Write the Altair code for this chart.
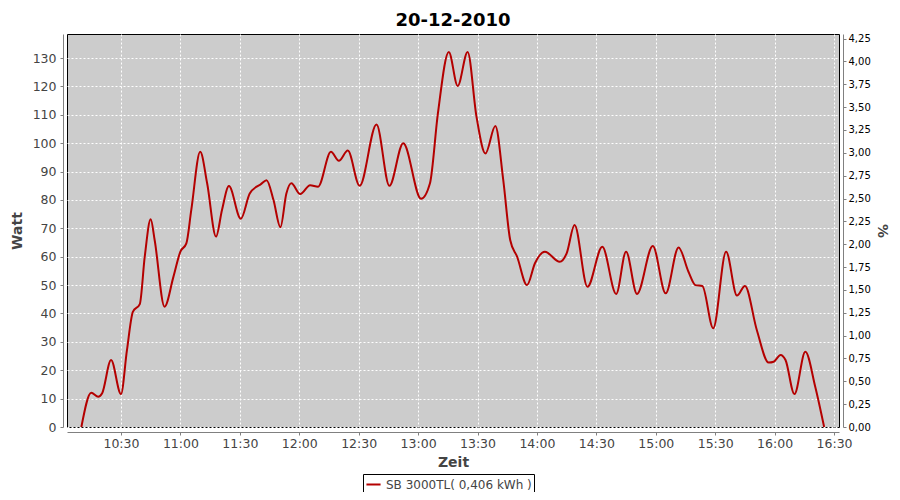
import altair as alt
import pandas as pd

# ---- data ----
times = [
    "10:10:00", "10:15:00", "10:18:30", "10:20:30", "10:25:00", "10:30:00", "10:33:00",
    "10:36:00", "10:39:30", "10:42:00", "10:45:00", "10:47:00", "10:52:00", "10:56:30",
    "11:00:00", "11:03:00", "11:05:30", "11:10:00", "11:13:30", "11:18:00", "11:21:00",
    "11:24:30", "11:30:30", "11:35:00", "11:38:30", "11:40:30", "11:43:30", "11:47:00",
    "11:50:30", "11:53:30", "11:56:00", "12:00:30", "12:05:30", "12:09:30", "12:16:00",
    "12:20:00", "12:24:30", "12:30:30", "12:39:00", "12:45:30", "12:52:30", "13:01:30",
    "13:06:00", "13:10:00", "13:15:30", "13:20:00", "13:25:00", "13:29:30", "13:34:00",
    "13:39:00", "13:43:00", "13:46:30", "13:50:00", "13:55:00", "13:59:00", "14:04:00",
    "14:11:30", "14:15:00", "14:19:00", "14:25:30", "14:33:00", "14:40:00", "14:45:00",
    "14:50:30", "14:58:30", "15:05:00", "15:11:30", "15:16:30", "15:20:00", "15:23:30",
    "15:29:00", "15:35:30", "15:41:00", "15:45:00", "15:51:00", "15:57:00", "15:59:30",
    "16:03:00", "16:05:30", "16:10:00", "16:15:30", "16:20:30", "16:25:00",
]
watt = [
    0, 12.1, 10.7, 11.9, 23.6, 11.6, 27.0,
    40.6, 43.3, 60.0, 73.2, 65.9, 42.4, 53.0,
    61.8, 64.7, 76.5, 97.0, 85.9, 67.1, 76.5,
    84.9, 73.4, 82.3, 84.7, 85.5, 87.0, 80.0,
    70.4, 82.3, 85.9, 82.1, 85.2, 84.7, 97.0,
    93.8, 97.4, 85.0, 106.6, 85.0, 100.0, 80.4,
    85.9, 110.5, 132.2, 120.2, 132.2, 109.3, 96.4,
    106.1, 87.0, 65.9, 60.0, 50.0, 57.7, 61.8,
    58.2, 61.2, 71.2, 49.4, 63.5, 46.9, 61.8,
    46.9, 63.8, 47.1, 63.3, 54.7, 50.0, 49.7,
    34.8, 61.8, 46.3, 49.7, 34.2, 22.7, 23.0,
    25.4, 23.6, 11.6, 26.5, 14.2, 0,
]
series_name = "SB 3000TL( 0,406 kWh )"
chart_title = "20-12-2010"
day = "2010-12-20"
x_ticks = ["10:30", "11:00", "11:30", "12:00", "12:30", "13:00", "13:30",
           "14:00", "14:30", "15:00", "15:30", "16:00", "16:30"]
watt_ticks = list(range(0, 140, 10))
pct_ticks = [i * 0.25 for i in range(18)]
watt_domain = [0, 138.5]
pct_domain = [0, 4.3]

df = pd.DataFrame({
    "t": [f"{day}T{t}" for t in times],
    "watt": watt,
    "series": series_name,
})
pct_df = pd.DataFrame({"pct": pct_domain, "t": [f"{day}T12:00:00"] * 2})


def dt(hm, sec=0):
    h, m = hm.split(":")
    return alt.DateTime(year=2010, month=12, date=20, hours=int(h), minutes=int(m), seconds=sec)


x_domain = [dt("10:02", 45), dt("16:32", 30)]
x_enc = alt.X(
    "t:T",
    scale=alt.Scale(domain=x_domain, nice=False),
    axis=alt.Axis(
        title="Zeit", values=[dt(v) for v in x_ticks], format="%H:%M",
        grid=True, gridColor="white", gridDash=[2, 2], gridWidth=1,
        offset=5, tickSize=3, labelPadding=2, titlePadding=6,
        labelFontSize=12.5, titleFontSize=14, titleFontWeight="bold",
    ),
)

line = alt.Chart(df).mark_line(interpolate="monotone", strokeWidth=2).encode(
    x=x_enc,
    y=alt.Y(
        "watt:Q",
        scale=alt.Scale(domain=watt_domain, nice=False),
        axis=alt.Axis(
            title="Watt", values=watt_ticks, grid=True, gridColor="white",
            gridDash=[2, 2], gridWidth=1, offset=4, tickSize=3,
            labelPadding=4, titlePadding=8, labelFontSize=12.5,
            titleFontSize=14, titleFontWeight="bold",
        ),
    ),
    color=alt.Color(
        "series:N",
        scale=alt.Scale(range=["#b40000"]),
        legend=alt.Legend(
            title=None, orient="none", legendX=296, legendY=440,
            symbolType="stroke", symbolStrokeWidth=2, symbolSize=200,
            labelFontSize=12, labelColor="#444444", labelFont="DejaVu Sans",
            strokeColor="black", padding=2, cornerRadius=0, fillColor="white",
        ),
    ),
)

right = alt.Chart(pct_df).mark_point(opacity=0).encode(
    x=alt.X("t:T", scale=alt.Scale(domain=x_domain, nice=False)),
    y=alt.Y(
        "pct:Q",
        scale=alt.Scale(domain=pct_domain, nice=False),
        axis=alt.Axis(
            title="%", orient="right", values=pct_ticks, grid=False,
            labelExpr="replace(format(datum.value, '.2f'), '.', ',')",
            offset=4, tickSize=3, labelPadding=2, titlePadding=4,
            labelFontSize=10, labelColor="black", titleFontSize=14,
            titleFontWeight="bold",
        ),
    ),
)

chart = (
    alt.layer(line, right)
    .resolve_scale(y="independent")
    .properties(
        width=772, height=393,
        autosize=alt.AutoSizeParams(type="none"),
        padding={"left": 59, "top": 26, "right": 53, "bottom": 65},
        title=alt.Title(chart_title, fontSize=18, fontWeight="bold",
                        font="DejaVu Sans", color="black", offset=1),
        background="white",
    )
    .configure_view(fill="#cccccc", stroke="black", strokeWidth=1)
    .configure_axis(
        domainColor="#808080", tickColor="#808080", labelColor="#444444",
        titleColor="#444444", labelFont="DejaVu Sans", titleFont="DejaVu Sans",
    )
)

chart.save("out.html", embed_options={"renderer": "svg", "actions": False})
